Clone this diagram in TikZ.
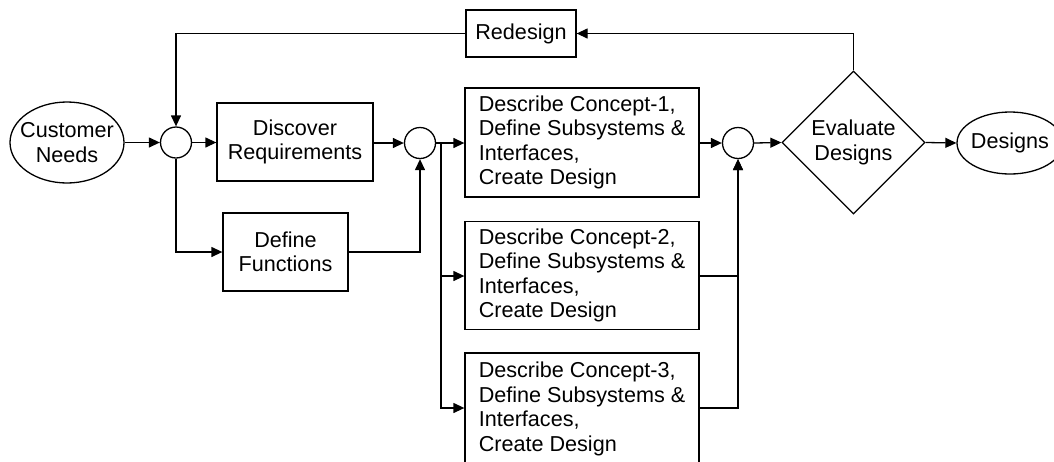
\documentclass[tikz,border=0pt]{standalone}
\usepackage{fontspec}
\setmainfont{Liberation Sans}
\usetikzlibrary{shapes.geometric,arrows.meta}
\begin{document}
\begin{tikzpicture}[x=1pt,y=-1pt,
  every node/.style={font=\fontsize{21.6}{24.5}\selectfont},
  box/.style={draw,rectangle,line width=1.3pt,inner sep=0pt,align=center},
  conceptbox/.style={draw,rectangle,line width=1.3pt,inner sep=0pt,align=left,minimum width=234pt},
  junction/.style={draw,circle,line width=1.3pt,minimum size=31pt,inner sep=0pt},
  oval/.style={draw,ellipse,line width=1.3pt,inner sep=0pt},
  txt/.style={align=center,inner sep=0pt},
  conn/.style={line width=1.3pt,-{Triangle[length=11pt,width=10pt]}}]
\useasboundingbox (0,0) rectangle (1054,461);
% nodes
\node[oval,minimum width=114pt,minimum height=81pt] (cn) at (67,142.5) {};
\node[txt] (cnt) at (cn) {Customer\\Needs};
\node[junction] (j1) at (176,142.5) {};
\node[box,minimum width=156pt,minimum height=78pt] (dr) at (295,142) {Discover\\Requirements};
\node[box,minimum width=125pt,minimum height=78pt] (df) at (285.5,252) {Define\\Functions};
\node[junction] (j2) at (420,143) {};
\coordinate (b) at (441,143);
\node[conceptbox,minimum height=109pt] (c1) at (582,142.5) {Describe Concept-1,\\Define Subsystems \&\\Interfaces,\\Create Design};
\node[conceptbox,minimum height=108pt] (c2) at (582,275.5) {Describe Concept-2,\\Define Subsystems \&\\Interfaces,\\Create Design};
\node[conceptbox,minimum height=112pt] (c3) at (582,409) {Describe Concept-3,\\Define Subsystems \&\\Interfaces,\\Create Design};
\node[junction] (j3) at (738,143) {};
\node[draw,diamond,line width=1.3pt,minimum width=143pt,minimum height=143pt,inner sep=0pt] (ev) at (853.5,142.5) {};
\node[txt] (evt) at (ev) {Evaluate\\Designs};
\node[oval,minimum width=106pt,minimum height=62pt] (ds) at (1010,143) {};
\node[txt] (dst) at (ds) {Designs};
\node[box,minimum width=110pt,minimum height=47pt] (rd) at (521,33.5) {Redesign};
% connectors
\draw[conn] (cn.east) -- (j1.west);
\draw[conn] (j1.east) -- (dr.west |- j1.east);
\draw[conn] (j1.south) |- (df.west);
\draw[conn] (dr.east |- j2.west) -- (j2.west);
\draw[conn] (df.east) -| (j2.south);
\draw[conn] (j2.east) -- (c1.west |- j2.east);
\draw[conn] (b) |- (c2.west |- 0,276);
\draw[conn] (b) |- (c3.west |- 0,408);
\draw[conn] (c1.east |- j3.west) -- (j3.west);
\draw[conn] (c2.east |- 0,276) -| (j3.south);
\draw[conn] (c3.east |- 0,408) -| (j3.south);
\draw[conn] (j3.east) -- (ev.west);
\draw[conn] (ev.east) -- (ds.west);
\draw[conn] (ev.north) |- (rd.east);
\draw[conn] (rd.west) -| (j1.north);
\end{tikzpicture}
\end{document}
